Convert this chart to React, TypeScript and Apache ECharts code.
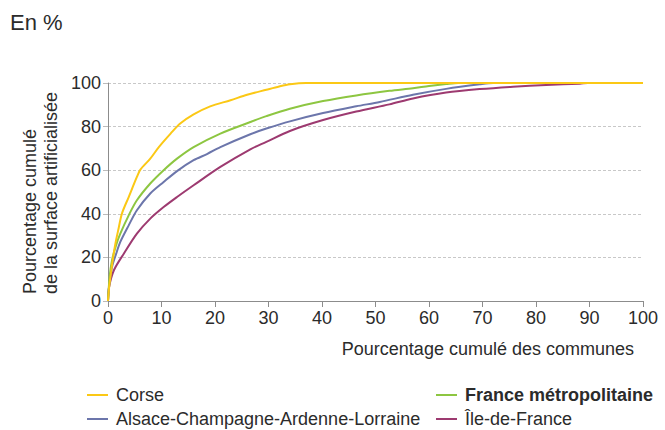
import React, { useEffect, useRef } from "react";
import * as echarts from "echarts";

const FONT = "'Liberation Sans', Arial, Helvetica, sans-serif";
const TEXT = "#2b2b2b";

const seriesNames = [
  "Corse",
  "France métropolitaine",
  "Alsace-Champagne-Ardenne-Lorraine",
  "Île-de-France",
];
const seriesColors = ["#FBC815", "#8DC641", "#6C76AB", "#9D3A70"];

const xTicks = [0, 10, 20, 30, 40, 50, 60, 70, 80, 90, 100];
const yTicks = [0, 20, 40, 60, 80, 100];

const corse: [number, number][] = [
  [0, 0], [0.2, 6], [0.45, 11], [0.9, 19], [1.38, 26.3], [2.0, 33.5], [2.6, 40.1],
  [3.87, 47.7], [5.4, 56.9], [6.05, 60.3], [7.9, 65.3], [9.5, 70.6], [11.7, 76.8],
  [13.5, 81.4], [16, 85.6], [19.1, 89.3], [22.9, 92.1], [26, 94.6], [29.6, 96.9],
  [32, 98.4], [34, 99.4], [37, 100], [60, 100], [100, 100],
];
const france: [number, number][] = [
  [0, 0], [0.3, 11], [0.75, 18.7], [1.5, 25.5], [2.3, 30.9], [3.87, 39.3], [5.4, 46.2],
  [7.9, 53.9], [10.4, 60], [12.9, 65.3], [16, 70.6], [21, 76.8], [26.6, 82.1],
  [29.6, 84.8], [34, 88.2], [40.2, 91.7], [46.4, 94.3], [52.6, 96.4], [57, 97.6],
  [60, 98.6], [63.2, 99.5], [65.5, 100], [80, 100], [100, 100],
];
const acal: [number, number][] = [
  [0, 0], [0.3, 9], [0.75, 15.6], [1.5, 21.5], [2.3, 27.1], [3.87, 34.7], [5.4, 41.6],
  [7.9, 49.3], [10.4, 54.6], [12.9, 59.6], [16, 64.6], [18.5, 67.4], [21, 70.6],
  [26.6, 76.5], [29.6, 79.1], [34, 82.4], [40.2, 86.2], [46.4, 89.3], [50.8, 91.3],
  [57, 94.6], [63.2, 97.3], [69.5, 99.4], [72, 100], [85, 100], [100, 100],
];
const idf: [number, number][] = [
  [0, 0], [0.2, 6.4], [1.1, 14.1], [2.95, 21.7], [5.4, 30.9], [7.9, 37.8], [10.4, 43.1],
  [12.9, 47.7], [16, 53.1], [21, 61.5], [26.6, 69.6], [29.6, 73], [34, 78.0],
  [40.2, 83.0], [46.4, 86.9], [52.6, 90.2], [57, 92.9], [63.2, 95.6], [69.5, 97.2],
  [75.7, 98.3], [81.9, 99.1], [88.2, 99.7], [89.7, 100], [100, 100],
];

const seriesData = [corse, france, acal, idf];

export default function App() {
  const ref = useRef<HTMLDivElement>(null);
  useEffect(() => {
    if (!ref.current) return;
    const chart = echarts.init(ref.current, null, { renderer: "svg" });
    const legendText = {
      color: TEXT,
      fontSize: 18,
      fontFamily: FONT,
      lineHeight: 18,
      padding: [0, 0, 0, 3],
      rich: {
        b: { fontWeight: "bold", fontSize: 18, fontFamily: FONT, color: TEXT, lineHeight: 18 },
      },
    };
    const legendBase = {
      orient: "vertical",
      top: 386,
      padding: 0,
      itemWidth: 21,
      itemHeight: 2,
      itemGap: 6,
      icon: "rect",
      textStyle: legendText,
    };
    chart.setOption({
      animation: false,
      textStyle: { fontFamily: FONT },
      grid: { left: 108, right: 22, top: 83, bottom: 129, containLabel: false },
      xAxis: {
        type: "value",
        min: xTicks[0],
        max: xTicks[xTicks.length - 1],
        interval: 10,
        axisLine: { show: true, lineStyle: { color: "#8c8c8c", width: 1 } },
        axisTick: { show: true, length: 6, lineStyle: { color: "#8c8c8c" } },
        axisLabel: { color: TEXT, fontSize: 18, fontFamily: FONT, margin: 8 },
        splitLine: { show: false },
      },
      yAxis: {
        type: "value",
        min: yTicks[0],
        max: yTicks[yTicks.length - 1],
        interval: 20,
        axisLine: { show: true, lineStyle: { color: "#8c8c8c", width: 1 } },
        axisTick: { show: true, length: 5, lineStyle: { color: "#bbbbbb" } },
        axisLabel: { color: TEXT, fontSize: 18, fontFamily: FONT, margin: 7 },
        splitLine: { show: true, lineStyle: { color: "#c8c8c8", type: [3, 2], width: 1 } },
      },
      legend: [
        { ...legendBase, left: 87, data: [seriesNames[0], seriesNames[2]] },
        {
          ...legendBase,
          left: 436,
          data: [seriesNames[1], seriesNames[3]],
          formatter: (name: string) =>
            name === "France métropolitaine" ? `{b|${name}}` : name,
        },
      ],
      graphic: [
        {
          type: "text",
          left: 10,
          top: 11,
          style: { text: "En %", fontSize: 22, fontFamily: FONT, fill: TEXT },
        },
        {
          type: "text",
          x: 30,
          y: 294,
          rotation: Math.PI / 2,
          style: {
            text: "Pourcentage cumulé",
            fontSize: 18,
            fontFamily: FONT,
            fill: TEXT,
            textAlign: "left",
            textVerticalAlign: "middle",
          },
        },
        {
          type: "text",
          x: 51,
          y: 294,
          rotation: Math.PI / 2,
          style: {
            text: "de la surface artificialisée",
            fontSize: 18,
            fontFamily: FONT,
            fill: TEXT,
            textAlign: "left",
            textVerticalAlign: "middle",
          },
        },
        {
          type: "text",
          x: 634,
          y: 349,
          style: {
            text: "Pourcentage cumulé des communes",
            fontSize: 18,
            fontFamily: FONT,
            fill: TEXT,
            textAlign: "right",
            textVerticalAlign: "middle",
          },
        },
      ],
      series: [3, 2, 1, 0].map((i) => ({
        name: seriesNames[i],
        type: "line",
        data: seriesData[i],
        showSymbol: false,
        symbol: "none",
        smooth: 0.3,
        lineStyle: { color: seriesColors[i], width: 2 },
        itemStyle: { color: seriesColors[i] },
        z: 10 - i,
      })),
    });
    return () => chart.dispose();
  }, []);
  return <div ref={ref} style={{ width: 665, height: 430, position: "absolute", left: 0, top: 0 }} />;
}
